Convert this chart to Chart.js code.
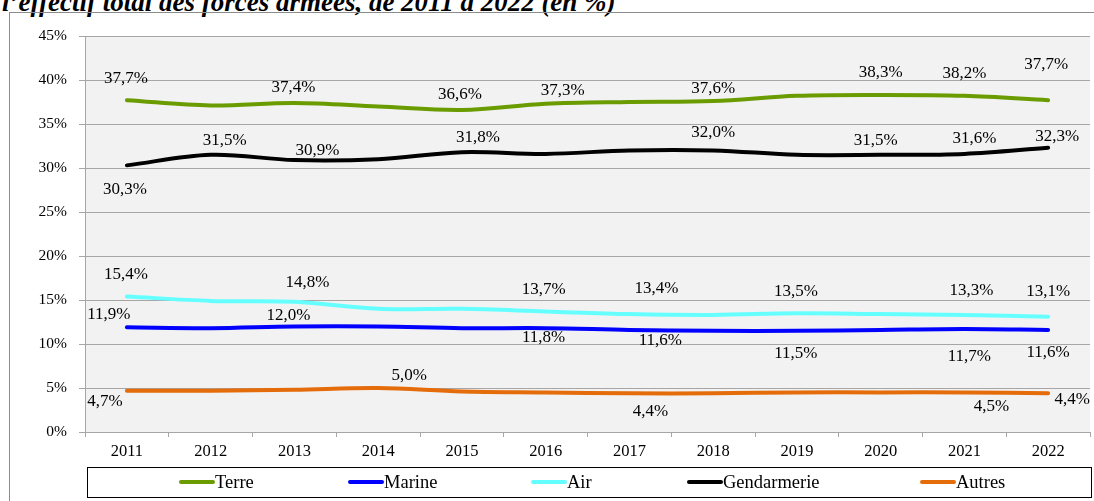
<!DOCTYPE html>
<html lang="fr">
<head>
<meta charset="utf-8">
<title>Part de chaque armée dans l'effectif total</title>
<script src="https://cdn.jsdelivr.net/npm/chart.js@4.4.1/dist/chart.umd.min.js"></script>
<style>
  html, body { margin: 0; padding: 0; background: #fff; overflow: hidden; }
  #wrap { position: relative; width: 1094px; height: 501px; overflow: hidden; }
  #title {
    position: absolute; left: 2px; top: -13px; white-space: nowrap; line-height: 27px;
    font: italic bold 27px "Liberation Serif", serif; color: #000;
  }
  #frame {
    position: absolute; left: 9px; top: 12px; width: 1200px; height: 600px;
    border: 1px solid #8c8c8c; box-sizing: border-box;
  }
  #chartBox { position: absolute; left: 0; top: 0; width: 1094px; height: 501px; }
</style>
</head>
<body>
<div id="wrap">
  <div id="title">l’effectif total des forces armées, de 2011 à 2022 (en %)</div>
  <div id="frame"></div>
  <div id="chartBox"><canvas id="armeesChart"></canvas></div>
</div>
<script>
// --- Data ---
const years = ['2011', '2012', '2013', '2014', '2015', '2016', '2017', '2018', '2019', '2020', '2021', '2022'];
const terre = [37.7, 37.1, 37.4, 37.0, 36.6, 37.3, 37.5, 37.6, 38.2, 38.3, 38.2, 37.7];
const marine = [11.9, 11.8, 12.0, 12.0, 11.8, 11.8, 11.6, 11.5, 11.5, 11.6, 11.7, 11.6];
const air = [15.4, 14.9, 14.8, 14.0, 14.0, 13.7, 13.4, 13.3, 13.5, 13.4, 13.3, 13.1];
const gendarmerie = [30.3, 31.5, 30.9, 31.0, 31.8, 31.6, 32.0, 32.0, 31.5, 31.5, 31.6, 32.3];
const autres = [4.7, 4.7, 4.8, 5.0, 4.6, 4.5, 4.4, 4.4, 4.5, 4.5, 4.5, 4.4];
const yTicks = [0, 5, 10, 15, 20, 25, 30, 35, 40, 45];

// --- Data label placement (pixel offsets from the point, null = no label) ---
const terreLabelPos = [[-1, -22], null, [-1, -15], null, [-2, -15], [17, -13], null, [0, -13], null, [0, -22], [0, -22], [-2, -36]];
const marineLabelPos = [[-18, -13], null, [-6, -11], null, null, [-2, 9], [31, 11], null, [-1, 23], null, [5, 27], [0, 23]];
const airLabelPos = [[-1, -22], null, [13, -19], null, null, [-2, -22], [27, -26], null, [-1, -22], null, [7, -24], [0, -25]];
const gendLabelPos = [[-2, 24], [14, -14], [23, -10], null, [16, -15], null, null, [0, -18], null, [-5, -14], [10, -15], [9, -11]];
const autresLabelPos = [[-22, 11], null, null, [31, -12], null, null, [21, 18], null, null, null, [27, 14], [24, 6]];

// --- Style ---
const FONT = '"Liberation Serif", serif';
const GRID_COLOR = '#a6a6a6';
const PLOT_BG = '#f2f2f2';
const legendItemX = [179, 348, 531, 687, 920];

const fmt = v => v.toFixed(1).replace('.', ',') + '%';

function makeSet(label, data, color, labelPos) {
    return {
        label, data, labelPos,
        borderColor: color,
        backgroundColor: color,
        borderWidth: 4,
        pointRadius: 0,
        pointHoverRadius: 0,
        tension: 0.35,
        borderCapStyle: 'round',
        fill: false
    };
}

const plotBackground = {
    id: 'plotBackground',
    beforeDraw(chart) {
        const { ctx, chartArea: a } = chart;
        ctx.save();
        ctx.fillStyle = PLOT_BG;
        ctx.fillRect(a.left, a.top, a.right - a.left, a.bottom - a.top);
        ctx.restore();
    }
};

const dataLabels = {
    id: 'dataLabels',
    afterDatasetsDraw(chart) {
        const ctx = chart.ctx;
        ctx.save();
        ctx.font = '17px ' + FONT;
        ctx.fillStyle = '#000';
        ctx.textAlign = 'center';
        ctx.textBaseline = 'middle';
        chart.data.datasets.forEach((ds, di) => {
            const meta = chart.getDatasetMeta(di);
            meta.data.forEach((pt, i) => {
                const off = ds.labelPos[i];
                if (!off) return;
                ctx.fillText(fmt(ds.data[i]), pt.x + off[0], pt.y + off[1]);
            });
        });
        ctx.restore();
    }
};

const boxLegend = {
    id: 'boxLegend',
    afterDraw(chart) {
        const ctx = chart.ctx;
        const top = 467, h = 30, cy = top + h / 2;
        ctx.save();
        ctx.strokeStyle = '#000';
        ctx.lineWidth = 1;
        ctx.strokeRect(87.5, top + 0.5, 1004, h);
        ctx.font = '18.5px ' + FONT;
        ctx.fillStyle = '#000';
        ctx.textAlign = 'left';
        ctx.textBaseline = 'middle';
        chart.data.datasets.forEach((ds, i) => {
            const x = legendItemX[i];
            ctx.strokeStyle = ds.borderColor;
            ctx.lineWidth = 4;
            ctx.lineCap = 'round';
            ctx.beginPath();
            ctx.moveTo(x + 2, cy);
            ctx.lineTo(x + 34, cy);
            ctx.stroke();
            ctx.fillText(ds.label, x + 36, cy + 1);
        });
        ctx.restore();
    }
};

const ctx = document.getElementById('armeesChart').getContext('2d');
new Chart(ctx, {
    type: 'line',
    data: {
        labels: years,
        datasets: [
            makeSet('Terre', terre, '#6a9c00', terreLabelPos),
            makeSet('Marine', marine, '#0000ff', marineLabelPos),
            makeSet('Air', air, '#66ffff', airLabelPos),
            makeSet('Gendarmerie', gendarmerie, '#000000', gendLabelPos),
            makeSet('Autres', autres, '#e46c0a', autresLabelPos)
        ]
    },
    options: {
        responsive: true,
        maintainAspectRatio: false,
        animation: false,
        layout: { padding: { left: 0, top: 36, right: 4, bottom: 0 } },
        plugins: { legend: { display: false }, tooltip: { enabled: false } },
        scales: {
            x: {
                offset: true,
                grid: { offset: true, drawOnChartArea: false, color: GRID_COLOR, tickLength: 5 },
                border: { color: GRID_COLOR, width: 1 },
                ticks: { color: '#000', font: { family: FONT, size: 16.5 }, padding: 5, maxRotation: 0 },
                afterFit: s => { s.height = 69; }
            },
            y: {
                min: 0, max: 45,
                afterBuildTicks: s => { s.ticks = yTicks.map(v => ({ value: v })); },
                grid: { color: GRID_COLOR, tickLength: 6 },
                border: { color: GRID_COLOR, width: 1 },
                ticks: { color: '#000', font: { family: FONT, size: 15.5 }, padding: 12, callback: v => v + '%' },
                afterFit: s => { s.width = 85; }
            }
        }
    },
    plugins: [plotBackground, dataLabels, boxLegend]
});
</script>
</body>
</html>
